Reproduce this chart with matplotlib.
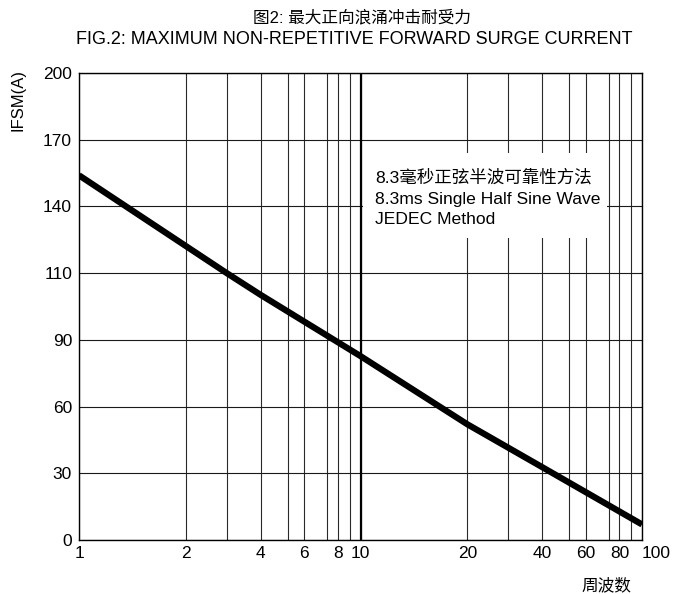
import numpy as np
import matplotlib
matplotlib.use('Agg')
from matplotlib import pyplot as plt
from matplotlib.patches import Rectangle

plt.rcParams['font.family'] = ['Liberation Sans', 'Noto Sans CJK SC', 'DejaVu Sans']

# curve: cycles vs IFSM (A)
cycles = [1, 3, 4, 10, 20, 40, 100]
ifsm = [154, 110, 103.5, 82.7, 52, 32.8, 7]

y_ticks = [0, 30, 60, 90, 110, 140, 170, 200]
x_ticks = [1, 2, 4, 6, 8, 10, 20, 40, 60, 80, 100]
x_minor = [3, 5, 7, 9, 30, 50, 70, 90]

# the printed grid is not a true log grid: position of 1..10 within a decade
mant = [1, 2, 3, 4, 5, 6, 7, 8, 9, 10]
frac = [0, 0.38, 0.525, 0.645, 0.742, 0.80, 0.882, 0.92, 0.962, 1.0]


def x_fwd(x):
    x = np.clip(np.asarray(x, dtype=float), 1e-9, None)
    d = np.floor(np.log10(x) + 1e-12)
    m = x / 10.0 ** d
    return d + np.interp(m, mant, frac)


def x_inv(u):
    u = np.asarray(u, dtype=float)
    d = np.floor(u)
    return np.interp(u - d, frac, mant) * 10.0 ** d


# y labels are equally spaced although the values are not
y_pos = np.arange(len(y_ticks))


def y_fwd(v):
    return np.interp(v, y_ticks, y_pos)


def y_inv(p):
    return np.interp(p, y_pos, y_ticks)


fig = plt.figure(figsize=(6.74, 5.94), dpi=100)
ax = fig.add_axes([79 / 674, 54 / 594, 563 / 674, 467 / 594])
ax.set_xscale('function', functions=(x_fwd, x_inv))
ax.set_yscale('function', functions=(y_fwd, y_inv))
ax.set_xlim(1, 100)
ax.set_ylim(0, 200)

ax.set_xticks(x_ticks)
xl = ax.set_xticklabels([str(t) for t in x_ticks])
xl[-1].set_horizontalalignment('left')
ax.set_xticks(x_minor, minor=True)
ax.set_yticks(y_ticks)
ax.set_yticklabels([str(t) for t in y_ticks])
ax.tick_params(which='both', length=0, labelsize=12.5)
ax.tick_params(axis='x', pad=4)
ax.tick_params(axis='y', pad=5)

ax.grid(which='both', axis='x', color='#2a2a2a', linewidth=0.8)
ax.grid(which='major', axis='y', color='#1a1a1a', linewidth=0.8)
ax.axvline(10, color='black', linewidth=1.6)
for s in ax.spines.values():
    s.set_linewidth(1.0)
    s.set_color('black')

# white panel behind the note
ax.add_patch(Rectangle((0.504, 0.647), 0.434, 0.182, transform=ax.transAxes,
                       facecolor='white', edgecolor='none', zorder=2.5))
ax.plot(cycles, ifsm, color='black', linewidth=4.5, solid_capstyle='butt', zorder=3)

ax.text(0.526, (540 - 183) / 467, '8.3毫秒正弦半波可靠性方法', transform=ax.transAxes,
        fontsize=12.6, va='baseline', zorder=4)
ax.text(0.526, (540 - 204) / 467, '8.3ms Single Half Sine Wave', transform=ax.transAxes,
        fontsize=12.6, va='baseline', zorder=4)
ax.text(0.526, (540 - 224) / 467, 'JEDEC Method', transform=ax.transAxes,
        fontsize=12.6, va='baseline', zorder=4)

fig.text(362 / 674, 1 - 17 / 594, '图2: 最大正向浪涌冲击耐受力', ha='center', va='center', fontsize=12)
fig.text(354 / 674, 1 - 40 / 594, 'FIG.2: MAXIMUM NON-REPETITIVE FORWARD SURGE CURRENT',
         ha='center', va='center', fontsize=13)
fig.text(18 / 674, 1 - 100 / 594, 'IFSM(A)', rotation=90, ha='center', va='center', fontsize=12)
fig.text(606 / 674, 1 - 585 / 594, '周波数', ha='center', va='center', fontsize=12)

fig.savefig('out.png', dpi=100)
